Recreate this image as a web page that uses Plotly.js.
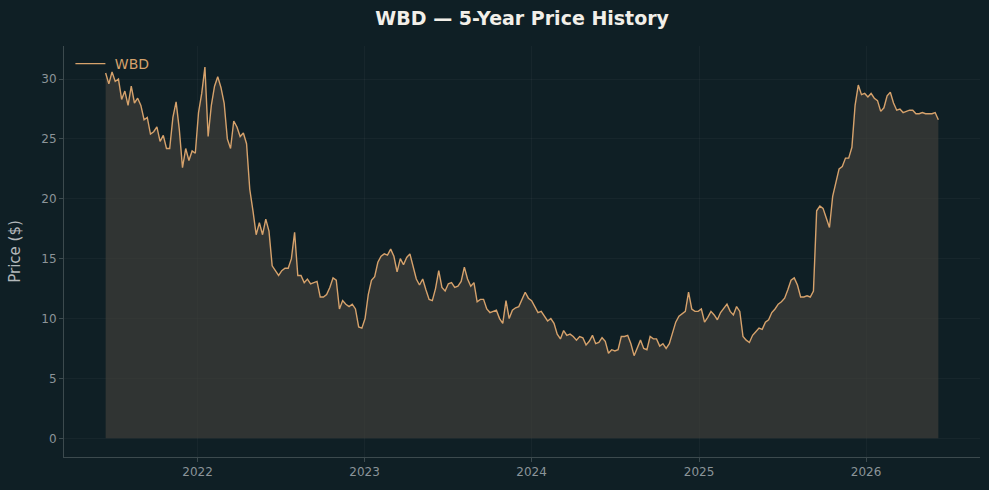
<!DOCTYPE html>
<html>
<head>
<meta charset="utf-8">
<script src="https://cdn.plot.ly/plotly-3.0.1.min.js"></script>
<style>
html,body{margin:0;padding:0;background:#0f1f25;}
#chart{width:989px;height:490px;}
</style>
</head>
<body>
<div id="chart"></div>
<script>
// Weekly closing prices (first week: 2021-06-14)
const startDate = '2021-06-14';
const stepDays = 7;
const prices = [
  30.5, 29.6, 30.6, 29.8, 30.0, 28.3, 29.0, 27.8, 29.4, 28.0,
  28.4, 27.8, 26.6, 26.8, 25.4, 25.6, 26.0, 24.8, 25.3, 24.2,
  24.2, 26.8, 28.1, 25.8, 22.6, 24.2, 23.2, 24.0, 23.8, 27.2,
  28.8, 31.0, 25.2, 27.8, 29.4, 30.2, 29.3, 28.0, 25.0, 24.2,
  26.5, 26.0, 25.2, 25.5, 24.6, 20.8, 19.0, 17.0, 18.0, 17.0,
  18.3, 17.3, 14.4, 14.0, 13.6, 14.0, 14.2, 14.2, 15.0, 17.2,
  13.6, 13.6, 13.0, 13.3, 12.9, 13.0, 13.1, 11.8, 11.8, 12.0,
  12.6, 13.4, 13.2, 10.8, 11.5, 11.2, 11.0, 11.2, 10.8, 9.3,
  9.2, 10.0, 12.0, 13.2, 13.5, 14.7, 15.2, 15.4, 15.3, 15.8,
  15.2, 13.9, 15.0, 14.5, 15.1, 15.4, 14.3, 13.3, 12.8, 13.3,
  12.4, 11.6, 11.5, 12.5, 14.0, 12.6, 12.3, 12.9, 13.0, 12.6,
  12.7, 13.1, 14.3, 13.3, 12.7, 13.0, 11.4, 11.6, 11.6, 10.8,
  10.5, 10.6, 10.7, 10.0, 9.6, 11.5, 10.0, 10.7, 10.9, 11.0,
  11.6, 12.2, 11.7, 11.5, 11.0, 10.5, 10.6, 10.2, 9.8, 10.0,
  9.6, 8.7, 8.3, 9.0, 8.6, 8.7, 8.5, 8.2, 8.5, 8.4,
  7.8, 8.1, 8.6, 7.9, 8.0, 8.4, 8.1, 7.1, 7.4, 7.3,
  7.4, 8.5, 8.5, 8.6, 7.9, 6.9, 7.6, 8.2, 7.5, 7.4,
  8.5, 8.3, 8.3, 7.7, 7.9, 7.5, 7.9, 8.8, 9.7, 10.2,
  10.4, 10.6, 12.2, 10.8, 10.6, 10.6, 10.8, 9.7, 10.1, 10.6,
  10.3, 9.9, 10.5, 10.9, 11.2, 10.6, 10.3, 11.0, 10.6, 8.5,
  8.2, 8.0, 8.6, 8.9, 9.2, 9.1, 9.7, 9.9, 10.5, 10.8,
  11.2, 11.4, 11.7, 12.4, 13.2, 13.4, 12.8, 11.8, 11.8, 11.9,
  11.8, 12.3, 19.0, 19.4, 19.2, 18.4, 17.6, 20.2, 21.5, 22.5,
  22.7, 23.4, 23.4, 24.3, 27.8, 29.5, 28.7, 28.8, 28.5, 28.8,
  28.4, 28.2, 27.3, 27.6, 28.6, 28.9, 28.0, 27.4, 27.5, 27.2,
  27.3, 27.4, 27.4, 27.1, 27.1, 27.2, 27.1, 27.1, 27.1, 27.2,
  26.6
];
const yTicks = [0, 5, 10, 15, 20, 25, 30];
const xTickVals = ['2022-01-01', '2023-01-01', '2024-01-01', '2025-01-01', '2026-01-01'];
const xTickText = ['2022', '2023', '2024', '2025', '2026'];

const dates = prices.map((_, i) => {
  const d = new Date(startDate + 'T00:00:00Z');
  d.setUTCDate(d.getUTCDate() + i * stepDays);
  return d.toISOString().slice(0, 10);
});

const lineColor = '#d6a26c';
const bg = '#0f1f25';
const axisColor = '#3c4a4e';
const tickFontColor = '#8b9499';

const traces = [
  {
    x: dates, y: prices, type: 'scatter', mode: 'lines',
    fill: 'tozeroy', fillcolor: 'rgba(66,64,58,0.65)',
    line: {width: 0, color: 'rgba(0,0,0,0)'},
    showlegend: false, hoverinfo: 'skip'
  },
  {
    x: dates, y: prices, type: 'scatter', mode: 'lines', name: '\u00a0WBD',
    line: {color: lineColor, width: 1.4}
  }
];

const layout = {
  width: 989, height: 490,
  paper_bgcolor: bg, plot_bgcolor: bg,
  margin: {l: 64, r: 9, t: 46, b: 33, pad: 0},
  font: {family: 'DejaVu Sans, sans-serif', color: tickFontColor, size: 12},
  title: {
    text: '<b>WBD — 5-Year Price History</b>',
    font: {family: 'DejaVu Sans, sans-serif', size: 19, color: '#f2efe9'},
    x: 0.528, xanchor: 'center', y: 0.962, yanchor: 'middle'
  },
  xaxis: {
    type: 'date',
    range: ['2021-03-15', '2026-09-07'],
    tickvals: xTickVals, ticktext: xTickText,
    showline: true, linecolor: axisColor, linewidth: 1,
    ticks: 'outside', ticklen: 4, tickcolor: axisColor, tickwidth: 1,
    showgrid: true, gridcolor: 'rgba(255,255,255,0.035)', gridwidth: 1,
    zeroline: false,
    tickfont: {size: 12, color: tickFontColor}
  },
  yaxis: {
    range: [-1.56, 32.76],
    tickvals: yTicks,
    showline: true, linecolor: axisColor, linewidth: 1,
    ticks: 'outside', ticklen: 4, tickcolor: axisColor, tickwidth: 1,
    showgrid: true, gridcolor: 'rgba(255,255,255,0.035)', gridwidth: 1,
    zeroline: false,
    tickfont: {size: 12, color: tickFontColor},
    title: {text: 'Price ($)', font: {size: 15, color: '#b3b8bb'}, standoff: 17}
  },
  legend: {
    x: 0.007, y: 0.995, xanchor: 'left', yanchor: 'top',
    bgcolor: 'rgba(0,0,0,0)', borderwidth: 0,
    font: {size: 14, color: lineColor}
  },
  showlegend: true
};

Plotly.newPlot('chart', traces, layout, {displayModeBar: false, staticPlot: true});
</script>
</body>
</html>
